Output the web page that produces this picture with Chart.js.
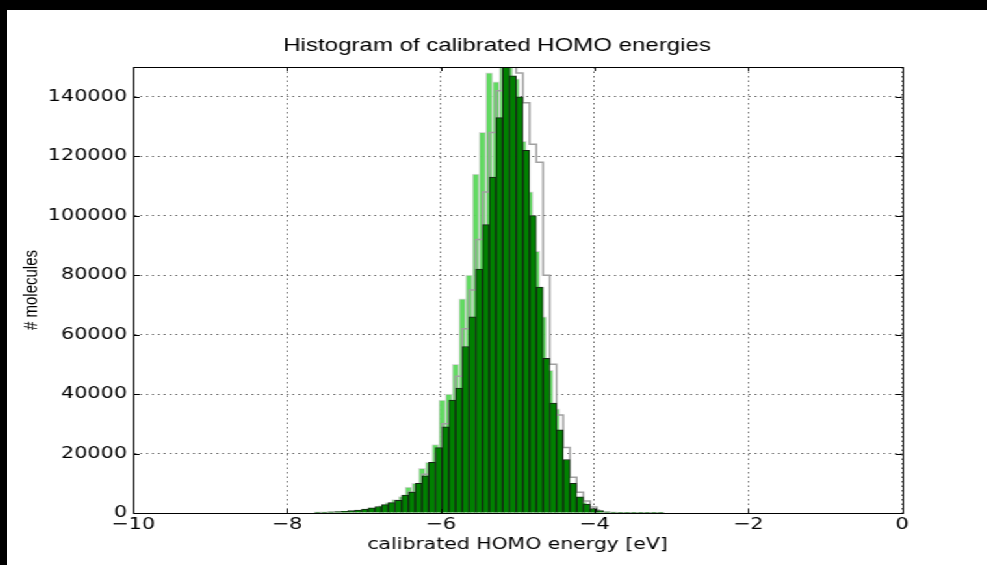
<!DOCTYPE html>
<html>
<head>
<meta charset="utf-8">
<script src="https://cdn.jsdelivr.net/npm/chart.js@4/dist/chart.umd.min.js"></script>
<style>
  html, body { margin: 0; padding: 0; background: #000; width: 987px; height: 565px; overflow: hidden; }
  #wrap {
    position: absolute; left: 7px; top: 10px;
    width: 754px; height: 555px; background: #fff;
    transform: scaleX(1.3); transform-origin: 0 0;
  }
</style>
</head>
<body>
<div id="wrap"><canvas id="homo"></canvas></div>
<script>
// bin centres [eV] and counts (thousands of molecules)
var darkCenters = [-7.6000, -7.5125, -7.4250, -7.3375, -7.2500, -7.1625, -7.0750, -6.9875, -6.9000, -6.8125,
	-6.7250, -6.6375, -6.5500, -6.4625, -6.3750, -6.2875, -6.2000, -6.1125, -6.0250, -5.9375,
	-5.8500, -5.7625, -5.6750, -5.5875, -5.5000, -5.4125, -5.3250, -5.2375, -5.1500, -5.0625,
	-4.9750, -4.8875, -4.8000, -4.7125, -4.6250, -4.5375, -4.4500, -4.3625, -4.2750, -4.1875,
	-4.1000, -4.0125, -3.9250, -3.8375, -3.7500, -3.6625, -3.5750, -3.4875, -3.4000, -3.3125,
	-3.2250, -3.1375];
var darkCounts = [0.3, 0.3, 0.4, 0.5, 0.6, 0.8, 1.0, 1.3, 1.7, 2.2,
	2.8, 3.5, 4.3, 6.0, 7.0, 10.0, 12.5, 17.0, 22.0, 29.0,
	38.0, 42.0, 56.0, 66.0, 82.0, 97.0, 113.0, 133.0, 152.0, 147.0,
	140.0, 122.0, 100.0, 76.0, 52.0, 37.0, 28.0, 18.0, 10.0, 5.4,
	3.0, 1.5, 0.8, 0.4, 0.3, 0.2, 0.2, 0.1, 0.1, 0.1,
	0.1, 0.1];

// second run, binned half a bin lower
var lightCenters = [-6.769, -6.681, -6.594, -6.506, -6.419, -6.331, -6.244, -6.156, -6.069, -5.981,
	-5.894, -5.806, -5.719, -5.631, -5.544, -5.456, -5.369, -5.281, -5.194, -5.106,
	-5.019, -4.931, -4.844, -4.756, -4.669, -4.581, -4.494, -4.406, -4.319, -4.231,
	-4.144, -4.056, -3.969];
var lightCounts = [2.5, 3.5, 4.5, 5.5, 8.7, 10.0, 15.0, 17.0, 23.0, 38.0,
	40.0, 50.0, 72.0, 80.0, 114.0, 128.0, 148.0, 145.0, 152.0, 150.0,
	146.0, 125.0, 108.0, 88.0, 66.0, 48.0, 35.0, 17.7, 9.0, 5.0,
	3.7, 1.5, 0.6];

// outline-only run
var stepCenters = [-6.7250, -6.6375, -6.5500, -6.4625, -6.3750, -6.2875, -6.2000, -6.1125, -6.0250, -5.9375,
	-5.8500, -5.7625, -5.6750, -5.5875, -5.5000, -5.4125, -5.3250, -5.2375, -5.1500, -5.0625,
	-4.9750, -4.8875, -4.8000, -4.7125, -4.6250, -4.5375, -4.4500, -4.3625, -4.2750, -4.1875,
	-4.1000, -4.0125, -3.9250];
var stepCounts = [2.0, 3.0, 4.0, 5.0, 7.0, 9.0, 13.0, 16.0, 20.0, 30.0,
	37.0, 46.0, 62.0, 75.0, 92.0, 108.0, 128.0, 142.0, 150.0, 152.0,
	148.0, 138.0, 124.0, 118.0, 80.0, 50.0, 33.0, 22.0, 12.0, 7.0,
	4.0, 2.0, 1.0];

var xTicks = [-10, -8, -6, -4, -2, 0];
var yTicks = [0, 20000, 40000, 60000, 80000, 100000, 120000, 140000];

function points(xs, ys){
	var out = [];
	for(var i = 0; i < xs.length; i++){
		out.push({x: xs[i], y: ys[i] * 1000});
	}
	return out;
}

function fixedTicks(list){
	return function(scale){
		scale.ticks = list.map(function(v){ return {value: v}; });
	};
}

// black box round the plot with small inward tick marks
var frame = {
	id: 'frame',
	afterDraw: function(chart){
		var ctx = chart.ctx, a = chart.chartArea;
		var sx = chart.scales.x, sy = chart.scales.y;
		ctx.save();
		ctx.strokeStyle = '#000';
		ctx.lineWidth = 1;
		ctx.strokeRect(Math.round(a.left) + 0.5, Math.round(a.top) + 0.5,
			Math.round(a.right - a.left), Math.round(a.bottom - a.top));
		ctx.beginPath();
		xTicks.forEach(function(t){
			var px = Math.round(sx.getPixelForValue(t)) + 0.5;
			ctx.moveTo(px, a.bottom); ctx.lineTo(px, a.bottom - 4);
			ctx.moveTo(px, a.top); ctx.lineTo(px, a.top + 4);
		});
		yTicks.forEach(function(t){
			var py = Math.round(sy.getPixelForValue(t)) + 0.5;
			ctx.moveTo(a.left, py); ctx.lineTo(a.left + 5, py);
			ctx.moveTo(a.right, py); ctx.lineTo(a.right - 5, py);
		});
		ctx.stroke();
		ctx.restore();
	}
};

var tickFont = {family: 'DejaVu Sans', size: 16};
var gridLines = {color: 'rgba(0,0,0,0.6)', lineWidth: 1, drawTicks: false, offset: false};
var axisLine = {display: true, color: '#000', width: 1, dash: [1.5, 3]};

function bars(xs, ys, axis, fill, edge, order){
	return {
		type: 'bar',
		data: points(xs, ys),
		xAxisID: axis,
		backgroundColor: fill,
		borderColor: edge,
		borderWidth: 1,
		barPercentage: 1,
		categoryPercentage: 1,
		grouped: false,
		order: order
	};
}

new Chart(document.getElementById('homo'), {
	type: 'bar',
	data: {
		datasets: [
			bars(lightCenters, lightCounts, 'x2', 'rgba(85,215,85,0.92)', '#d8d8d8', 3),
			{
				type: 'line',
				data: points(stepCenters, stepCounts),
				xAxisID: 'x',
				stepped: 'middle',
				borderColor: '#a0a0a0',
				borderWidth: 1.5,
				pointRadius: 0,
				fill: false,
				order: 2
			},
			bars(darkCenters, darkCounts, 'x', '#008000', '#142414', 1)
		]
	},
	options: {
		animation: false,
		responsive: true,
		maintainAspectRatio: false,
		layout: {padding: 0},
		plugins: {
			legend: {display: false},
			tooltip: {enabled: false},
			title: {
				display: true,
				text: 'Histogram of calibrated HOMO energies',
				color: '#000',
				font: {family: 'Liberation Sans', size: 18.5, weight: 'normal', lineHeight: 1.2},
				padding: {top: 25, bottom: 9.8}
			}
		},
		scales: {
			x: {
				type: 'linear',
				min: -10,
				max: 0,
				offset: false,
				afterBuildTicks: fixedTicks(xTicks),
				ticks: {
					color: '#000',
					font: tickFont,
					padding: 2,
					maxRotation: 0,
					callback: function(v){ return String(v).replace('-', '\u2212'); }
				},
				grid: gridLines,
				border: axisLine,
				title: {
					display: true,
					text: 'calibrated HOMO energy [eV]',
					color: '#000',
					font: {family: 'DejaVu Sans', size: 15.7, lineHeight: 1.2},
					padding: {top: 0, bottom: 10.6}
				},
				afterFit: function(scale){ scale.height = 52; }
			},
			x2: {
				type: 'linear',
				min: -10,
				max: 0,
				offset: false,
				display: false
			},
			y: {
				min: 0,
				max: 150000,
				afterBuildTicks: fixedTicks(yTicks),
				ticks: {
					color: '#000',
					font: tickFont,
					padding: 4.6,
					callback: function(v){ return String(v); }
				},
				grid: gridLines,
				border: axisLine,
				title: {
					display: true,
					text: '# molecules',
					color: '#000',
					font: {family: 'Liberation Sans', size: 15, lineHeight: 1.2},
					padding: {top: 10.2, bottom: 0}
				},
				afterFit: function(scale){ scale.width = 97; }
			},
			// empty strip on the right of the plot box
			yr: {
				position: 'right',
				display: true,
				ticks: {display: false},
				grid: {display: false},
				border: {display: false},
				afterFit: function(scale){ scale.width = 65.5; }
			}
		}
	},
	plugins: [frame]
});
</script>
</body>
</html>
